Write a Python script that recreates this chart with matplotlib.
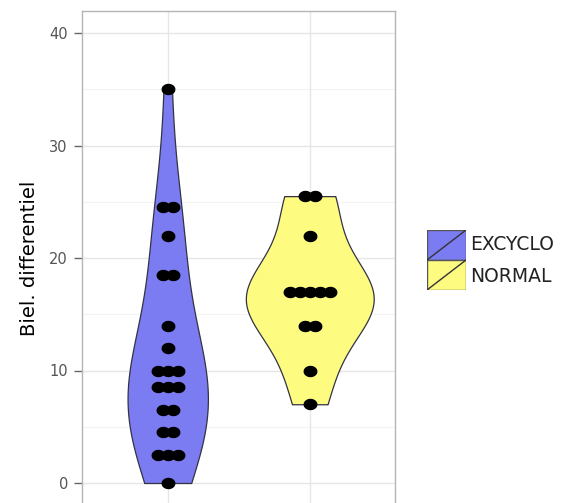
import numpy as np
import matplotlib
matplotlib.use('Agg')
from matplotlib import pyplot as plt
from matplotlib.path import Path
from matplotlib.patches import Rectangle

groups = ['EXCYCLO', 'NORMAL']
fills = ['#7b7bf2', '#fdfb80']

# observed values per group (value, count)
excyclo_vals = [0, 2.5, 4.5, 6.5, 8.5, 10, 12, 14, 18.5, 22, 24.5, 35]
excyclo_cnt = [1, 3, 2, 2, 3, 3, 1, 1, 2, 1, 2, 1]
normal_vals = [7, 10, 14, 17, 22, 25.5]
normal_cnt = [1, 1, 2, 5, 1, 2]

# kernel bandwidths used for the violins
bandwidths = [5.5, 3.3]

y_ticks = [0, 10, 20, 30, 40]


def expand(vals, cnt):
    out = []
    for v, c in zip(vals, cnt):
        out += [v] * c
    return np.array(out, dtype=float)


def kde(data, bw, grid):
    z = (grid[:, None] - data[None, :]) / bw
    return np.exp(-0.5 * z ** 2).sum(axis=1) / (len(data) * bw * np.sqrt(2 * np.pi))


data = [expand(excyclo_vals, excyclo_cnt), expand(normal_vals, normal_cnt)]
grids = [np.linspace(d.min(), d.max(), 300) for d in data]
dens = [kde(d, bw, g) for d, bw, g in zip(data, bandwidths, grids)]
dmax = max(d.max() for d in dens)

fig = plt.figure(figsize=(5.77, 5.03), dpi=100)
ax = fig.add_axes([82.5 / 577, -2.5 / 503, 312.5 / 577, 495 / 503])
ax.set_xlim(0.4, 2.6)
ax.set_ylim(-2, 42)

# grid like theme_bw
for y in range(5, 45, 10):
    ax.axhline(y, color='#f3f3f3', lw=0.8, zorder=0)
for y in y_ticks:
    ax.axhline(y, color='#e6e6e6', lw=1.0, zorder=0)
for x in (1, 2):
    ax.axvline(x, color='#e6e6e6', lw=1.0, zorder=0)

for i, (g, d, col) in enumerate(zip(grids, dens, fills)):
    pos = i + 1
    half = d / dmax * 0.45
    ax.fill_betweenx(g, pos - half, pos + half, facecolor=col,
                     edgecolor='#333344', lw=0.9, zorder=2)

# dot stacks, ellipse shaped
t = np.linspace(0, 2 * np.pi, 40)
dot = Path(np.column_stack([1.25 * np.cos(t), np.sin(t)]))
spacing = 0.07
for i, (vals, cnt) in enumerate([(excyclo_vals, excyclo_cnt), (normal_vals, normal_cnt)]):
    for v, c in zip(vals, cnt):
        xs = i + 1 + (np.arange(c) - (c - 1) / 2) * spacing
        ax.plot(xs, [v] * c, linestyle='none', marker=dot, markersize=9,
                color='black', zorder=3)

ax.set_yticks(y_ticks)
ax.set_xticks([])
ax.tick_params(axis='y', length=5.5, width=1, color='#666666',
               labelcolor='#555555', labelsize=10.5, pad=5)
for s in ax.spines.values():
    s.set_color('#b5b5b5')
    s.set_linewidth(1)
ax.set_ylabel('Biel. differentiel', fontsize=14, labelpad=7)

# legend keys
lax = fig.add_axes([427 / 577, 1 - 290 / 503, 39 / 577, 60 / 503])
lax.set_xlim(0, 1)
lax.set_ylim(0, 2)
lax.axis('off')
for k, (name, col) in enumerate(zip(groups, fills)):
    y0 = 1 - k
    lax.add_patch(Rectangle((0, y0), 1, 1, facecolor=col, edgecolor='#555555', lw=1))
    lax.plot([0, 1], [y0, y0 + 1], color='#333333', lw=1)
    fig.text(470 / 577, 1 - (245 + 31 * k) / 503, name, fontsize=13.5, va='center',
             color='#222222')

fig.savefig('out.png', dpi=100)
